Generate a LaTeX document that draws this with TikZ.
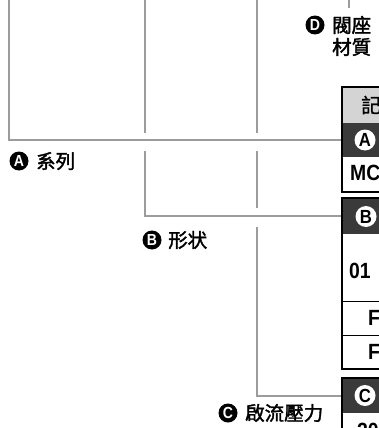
\documentclass[tikz,border=0pt]{standalone}
\usepackage{fontspec}
\newfontfamily\cjk[FakeBold=1.8]{Noto Sans CJK TC}
\newfontfamily\cjkhdr[FakeBold=1.0]{Noto Sans CJK TC}
\newfontfamily\tabfont[FakeStretch=0.88]{Liberation Sans}
\definecolor{linegray}{HTML}{9C9C9C}
\definecolor{rowdark}{HTML}{3A3A3A}
\definecolor{hdrgray}{HTML}{D4D4D4}
\begin{document}
\begin{tikzpicture}[x=1pt,y=-1pt,
  conn/.style={draw=linegray, line width=2pt},
  tblborder/.style={draw=black, line width=2.3pt},
  rowsep/.style={draw=black, line width=1pt},
  cell/.style={anchor=north west, minimum width=150pt, inner sep=0pt, outer sep=0pt},
  hdrrow/.style={cell, fill=hdrgray},
  darkrow/.style={cell, fill=rowdark},
  whiterow/.style={cell, fill=white},
  lcirc/.style={circle, fill=black, text=white, inner sep=0pt, minimum size=19pt,
    font=\tabfont\bfseries\fontsize{16}{16}\selectfont},
  tcirc/.style={circle, fill=white, text=black, inner sep=0pt, minimum size=21pt,
    font=\tabfont\bfseries\fontsize{19}{19}\selectfont},
  lbl/.style={anchor=west, inner sep=0pt, font=\cjk\fontsize{19.5}{22}\selectfont},
  celltxt/.style={anchor=west, inner sep=0pt, font=\tabfont\bfseries\fontsize{22}{22}\selectfont},
  hdrtxt/.style={anchor=west, inner sep=0pt, font=\cjkhdr\fontsize{20}{20}\selectfont}
]
\useasboundingbox (0,0) rectangle (379,428);
\clip (0,0) rectangle (379,428);

% table rows (named)
\node[hdrrow, minimum height=36pt] (hdrA) at (342,87) {};
\node[darkrow, minimum height=34pt] (rowA) at (342,123) {};
\node[whiterow, minimum height=35pt] (valA) at (342,157) {};

\node[darkrow, minimum height=36pt] (rowB) at (342,198) {};
\node[whiterow, minimum height=67pt] (valB1) at (342,234) {};
\node[whiterow, minimum height=34pt] (valB2) at (342,301) {};
\node[whiterow, minimum height=34pt] (valB3) at (342,335) {};

\node[darkrow, minimum height=35pt] (rowC) at (342,378) {};
\node[whiterow, minimum height=50pt] (valC) at (342,413) {};

% connectors
\coordinate (topA) at (9,0);
\coordinate (topB) at (145,0);
\coordinate (gapB1) at (145,133);
\coordinate (gapB2) at (145,151);
\coordinate (topC) at (257,0);
\coordinate (gapC1) at (257,133);
\coordinate (gapC2) at (257,151);
\coordinate (gapC3) at (257,208);
\coordinate (gapC4) at (257,227);
\coordinate (topD) at (349,0);
\coordinate (endD) at (349,8);

\draw[conn] (topA) |- (rowA.west);
\draw[conn] (topB) -- (gapB1);
\draw[conn] (gapB2) |- (rowB.west);
\draw[conn] (topC) -- (gapC1);
\draw[conn] (gapC2) -- (gapC3);
\draw[conn] (gapC4) |- (rowC.west);
\draw[conn] (topD) -- (endD);

% borders
\draw[tblborder] (hdrA.north west) rectangle (valA.south east);
\draw[tblborder] (rowB.north west) rectangle (valB3.south east);
\draw[rowsep] (valB2.north west) -- (valB2.north east);
\draw[rowsep] (valB3.north west) -- (valB3.north east);
\draw[tblborder] (rowC.north west) rectangle (valC.south east);

% table texts
\node[hdrtxt] (tH) at (361,105) {記};
\node[tcirc] (tA) at (365,140) {A};
\node[celltxt] (tMC) at (350,173) {MC};
\node[tcirc] (tB) at (366,216.5) {B};
\node[celltxt] (t01) at (349,271) {01};
\node[celltxt] (tF1) at (368,318) {F};
\node[celltxt] (tF2) at (368,352) {F};
\node[tcirc] (tC) at (365,395.5) {C};
\node[celltxt] (t20) at (357,431) {20};

% labels
\node[lcirc] (cA) at (19,161) {A};
\node[lbl] (lA) at (36,161) {系列};
\node[lcirc] (cB) at (152,240) {B};
\node[lbl] (lB) at (168,240) {形状};
\node[lcirc] (cC) at (228,413) {C};
\node[lbl] (lC) at (245,413) {啟流壓力};
\node[lcirc] (cD) at (315,25) {D};
\node[lbl] (lD1) at (332,25) {閥座};
\node[lbl] (lD2) at (332,47) {材質};
\end{tikzpicture}
\end{document}
